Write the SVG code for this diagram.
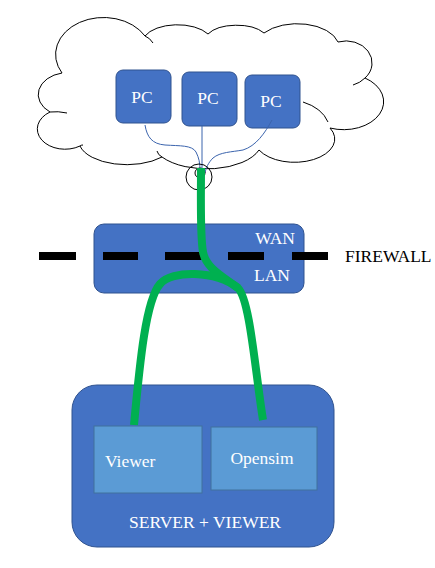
<svg xmlns="http://www.w3.org/2000/svg" width="435" height="568" viewBox="0 0 435 568">
<style>
.node{fill:#4472C4;stroke:#2F528F;stroke-width:1}
.sub{fill:#5B9BD5;stroke:#41719C;stroke-width:1}
text{font-family:'Liberation Serif','Times New Roman','DejaVu Serif',serif;font-size:17.5px}
.wt{fill:#ffffff}
.bt{fill:#000000}
.cl{fill:none;stroke:#000;stroke-width:1}
.wire{fill:none;stroke:#3B64AD;stroke-width:1}
.green{fill:none;stroke:#00B050;stroke-width:8;stroke-linecap:butt;stroke-linejoin:round}
</style>
<rect width="435" height="568" fill="#ffffff"/>
<g id="cloud">
<path d="M62,73 A44,34 0 0 1 145,36 A35,18 0 0 1 208,34 A32,16 0 0 1 264,33 A42,24 0 0 1 338,42 A26,22 0 0 1 365,78 A40,28 0 0 1 330,128 A38,22 0 0 1 259,150 A55,28 0 0 1 162,157 A48,24 0 0 1 80,146 A26,19 0 0 1 50,112 A30,22 0 0 1 62,73 Z" fill="#ffffff" stroke="#000" stroke-width="1"/>
<path class="cl" d="M145,36 Q150,38 153,43"/>
<path class="cl" d="M365,78 Q360,83 353,85"/>
<path class="cl" d="M303,102 Q322,108 328,122"/>
<path class="cl" d="M162,157 Q158,155 157,151"/>
<path class="cl" d="M50,112 Q58,111 67,113"/>
<path class="cl" d="M80,146 Q81,145 83,145"/>
</g>
<g id="pc1"><rect class="node" x="116" y="70" width="55" height="53" rx="7"/><text class="wt" x="142" y="103" text-anchor="middle" font-family="Liberation Serif, serif">PC</text></g>
<g id="pc2"><rect class="node" x="182" y="72" width="55" height="54" rx="7"/><text class="wt" x="208" y="104" text-anchor="middle" font-family="Liberation Serif, serif">PC</text></g>
<g id="pc3"><rect class="node" x="245" y="75" width="55" height="53" rx="7"/><text class="wt" x="271" y="107" text-anchor="middle" font-family="Liberation Serif, serif">PC</text></g>
<g id="router"><rect class="node" x="94" y="224" width="210" height="69" rx="10"/>
<text class="wt" x="295" y="244" text-anchor="end" font-family="Liberation Serif, serif">WAN</text>
<text class="wt" x="290" y="281" text-anchor="end" font-family="Liberation Serif, serif">LAN</text></g>
<g id="firewall">
<path d="M39,256 H76 M103,256 H138 M165,256 H202 M228,256 H264 M292,256 H328" stroke="#000" stroke-width="8"/>
<text class="bt" x="345" y="262" font-family="Liberation Serif, serif">FIREWALL</text>
</g>
<g id="server"><rect class="node" x="72" y="385" width="262" height="162" rx="25"/>
<text class="wt" x="205" y="528" text-anchor="middle" font-family="Liberation Serif, serif">SERVER + VIEWER</text></g>
<g id="viewer"><rect class="sub" x="94" y="426" width="108" height="67"/><text class="wt" x="105" y="467" font-family="Liberation Serif, serif">Viewer</text></g>
<g id="opensim"><rect class="sub" x="211" y="427" width="106" height="63"/><text class="wt" x="262" y="464" text-anchor="middle" font-family="Liberation Serif, serif">Opensim</text></g>
<g id="connectors">
<path class="wire" d="M145,125 C147,137 152,144 165,145 C180,146 192,145 196,152 C199,158 200,163 200,170"/>
<path class="wire" d="M202,126 V172"/>
<path class="wire" d="M272,120 C265,133 256,146 243,150 C232,152 220,152 213,158 C208,163 206,168 205,173"/>
<circle class="cl" cx="199" cy="177" r="13"/>
<circle class="cl" cx="200" cy="173" r="5"/>
<path class="green" d="M201,168 C201,200 200,235 203,252 C206,268 222,276 238,288"/>
<path class="green" d="M134,425 C140,360 146,300 160,284 C172,270 215,270 238,288 C250,300 255,370 263,420"/>
</g>
</svg>
